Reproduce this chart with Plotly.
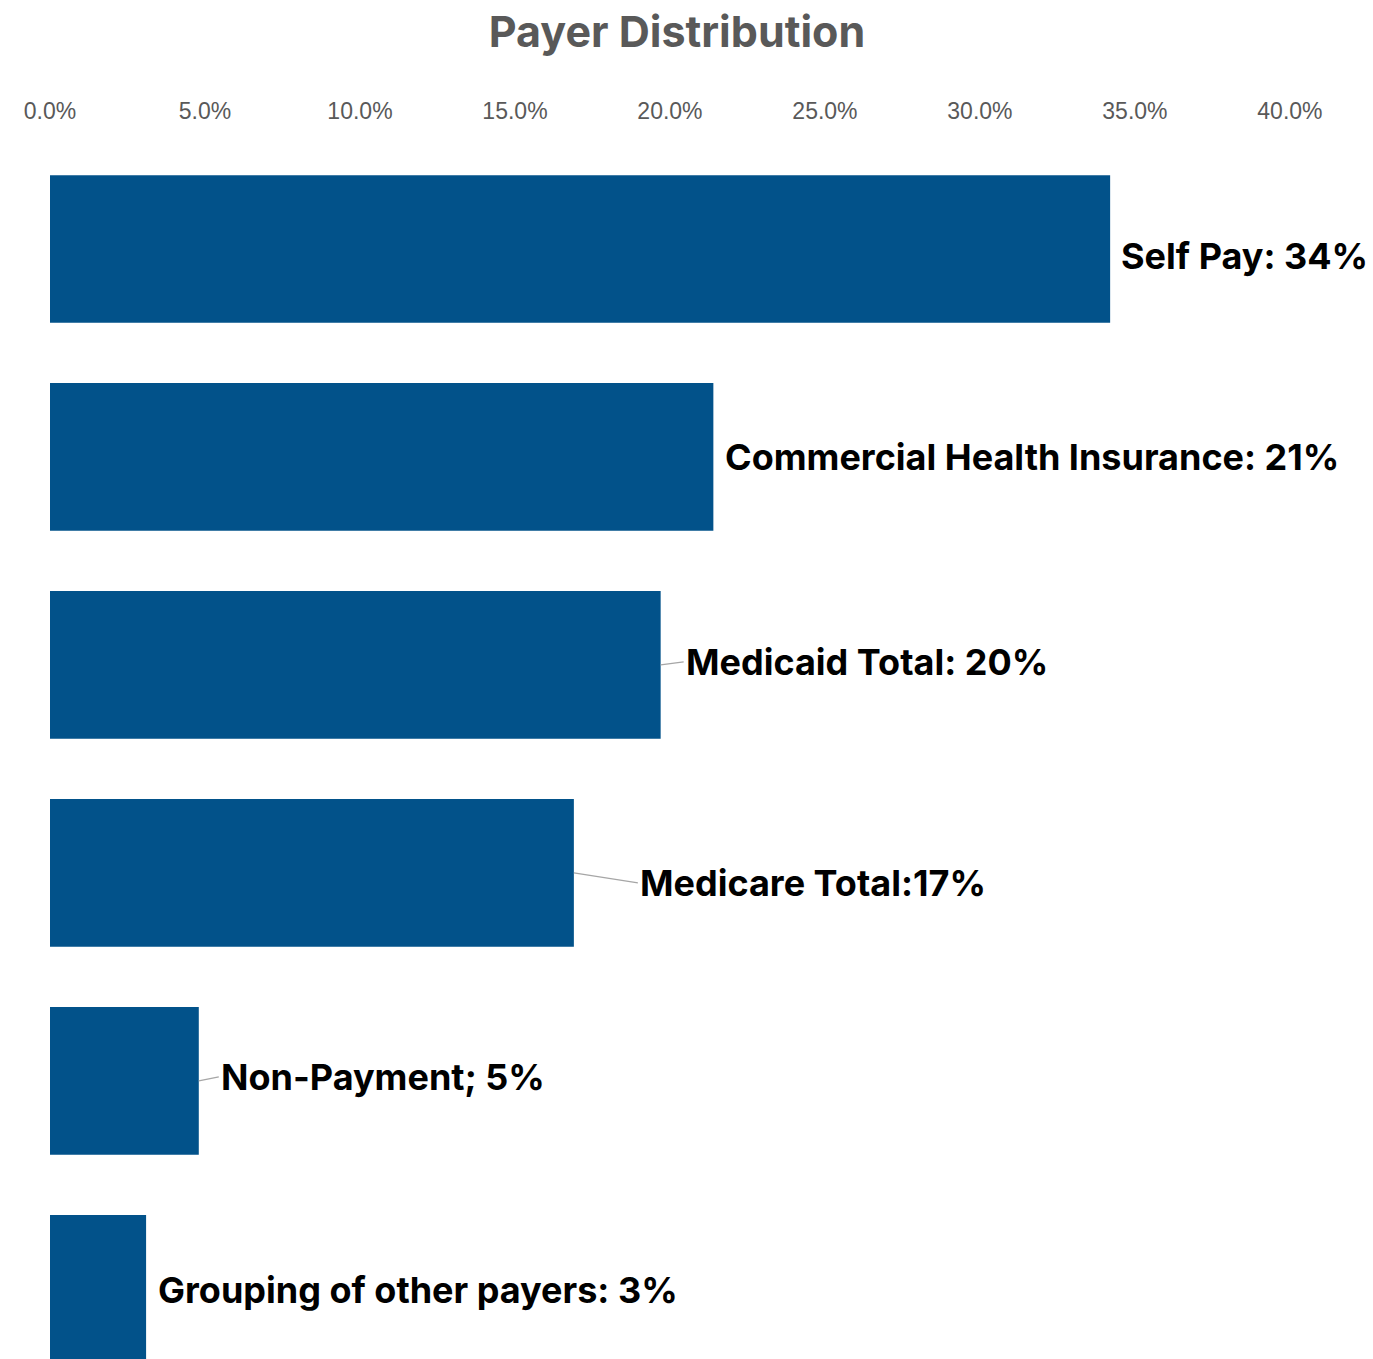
import plotly.graph_objects as go

# Payer mix, top to bottom
payers = [
    "Self Pay",
    "Commercial Health Insurance",
    "Medicaid Total",
    "Medicare Total",
    "Non-Payment",
    "Grouping of other payers",
]
shares = [0.342, 0.214, 0.197, 0.169, 0.048, 0.031]
labels = [
    "Self Pay: 34%",
    "Commercial Health Insurance: 21%",
    "Medicaid Total: 20%",
    "Medicare Total:17%",
    "Non-Payment; 5%",
    "Grouping of other payers: 3%",
]
tick_vals = [0.0, 0.05, 0.10, 0.15, 0.20, 0.25, 0.30, 0.35, 0.40]

BAR_COLOR = "#02528A"
FONT = "Inter"

fig = go.Figure(
    go.Bar(
        x=shares,
        y=payers,
        orientation="h",
        marker=dict(color=BAR_COLOR, line=dict(width=0)),
        width=0.71,
        hoverinfo="skip",
    )
)

# label placement: plain offsets, or a grey leader line back to the bar end
label_style = [
    dict(showarrow=False, xshift=9, yshift=-7),
    dict(showarrow=False, xshift=10, yshift=0),
    dict(showarrow=True, ax=23, ay=-3),
    dict(showarrow=True, ax=64, ay=10),
    dict(showarrow=True, ax=20, ay=-4),
    dict(showarrow=False, xshift=10, yshift=-1),
]

for payer, share, text, style in zip(payers, shares, labels, label_style):
    ann = dict(
        x=share,
        y=payer,
        xref="x",
        yref="y",
        text=f"<b>{text}</b>",
        xanchor="left",
        yanchor="middle",
        font=dict(family=FONT, size=36, color="#000000"),
    )
    if style["showarrow"]:
        ann.update(
            showarrow=True,
            axref="pixel",
            ayref="pixel",
            ax=style["ax"],
            ay=style["ay"],
            arrowhead=0,
            arrowwidth=1.2,
            arrowcolor="#A6A6A6",
            standoff=0,
            startstandoff=0,
        )
    else:
        ann.update(showarrow=False, xshift=style["xshift"], yshift=style["yshift"])
    fig.add_annotation(**ann)

fig.update_layout(
    width=1373,
    height=1359,
    margin=dict(l=50, r=0, t=125, b=0),
    paper_bgcolor="white",
    plot_bgcolor="white",
    showlegend=False,
    title=dict(
        text="<b>Payer Distribution</b>",
        x=677 / 1373,
        xanchor="center",
        xref="container",
        y=1 - 32 / 1359,
        yanchor="middle",
        yref="container",
        font=dict(family=FONT, size=43, color="#595959"),
    ),
    xaxis=dict(
        side="top",
        range=[0, 0.4268],
        tickvals=tick_vals,
        tickformat=".1%",
        showgrid=False,
        zeroline=False,
        showline=False,
        ticks="",
        tickfont=dict(family="Liberation Sans", size=23, color="#595959"),
        fixedrange=True,
    ),
    yaxis=dict(
        type="category",
        categoryorder="array",
        categoryarray=payers,
        range=[5.337, -0.596],
        showticklabels=False,
        showgrid=False,
        zeroline=False,
        showline=False,
        ticks="",
        fixedrange=True,
    ),
)

fig.write_html("out.html")
